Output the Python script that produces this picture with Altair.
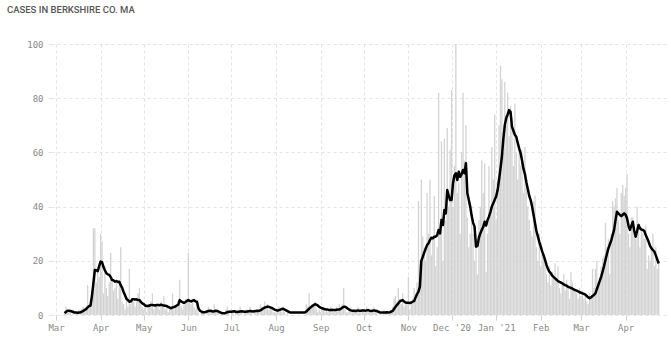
import altair as alt
import pandas as pd

TITLE = "CASES IN BERKSHIRE CO. MA"

# Daily new cases (bars) and 7-day average (line), per month
cases_2020_03 = [1, 3, 2, 1, 1, 0, 2, 0, 1, 1, 2, 1, 2, 3, 2, 3, 11, 4, 6, 8, 32, 32, 12, 17, 14]
avg_2020_03 = [0.7, 1.2, 1.6, 1.6, 1.5, 1.3, 1.1, 0.9, 0.9, 0.8, 0.9, 1.0, 1.2, 1.5,
               1.9, 2.2, 2.8, 3.3, 3.5, 7.0, 11.8, 16.6, 16.5, 16.2, 18.0]

cases_2020_04 = [30, 27, 8, 16, 10, 7, 12, 23, 14, 9, 10, 13, 6, 12, 25, 5, 4, 2, 6, 3, 17,
                 4, 6, 5, 3, 5, 8, 10, 4, 3]
avg_2020_04 = [19.7, 19.5, 17.8, 16.5, 15.4, 15.0, 14.8, 14.0, 12.9, 12.8, 12.3, 12.5, 12.2, 12.3,
               11.0, 10.0, 8.5, 7.3, 6.0, 5.5, 4.9, 5.0, 5.8, 5.8, 5.7, 5.8, 5.5, 5.5, 4.8, 4.3]

cases_2020_05 = [2, 3, 1, 4, 3, 5, 8, 2, 3, 4, 3, 2, 5, 3, 7, 2, 3, 1, 2, 3, 8, 2, 3, 4, 5, 13,
                 3, 2, 4, 6, 5]
avg_2020_05 = [4.0, 3.5, 3.3, 3.3, 3.5, 3.7, 3.7, 3.6, 3.5, 3.7, 3.7, 3.6, 3.8, 3.6, 3.5, 3.4,
               3.3, 3.0, 2.7, 2.5, 2.8, 2.9, 3.2, 3.5, 3.8, 5.5, 5.0, 4.7, 4.5, 4.8, 5.2]

cases_2020_06 = [23, 5, 4, 6, 3, 2, 4, 1, 0, 1, 2, 1, 0, 2, 3, 1, 2, 1, 4, 1, 2, 1, 0, 1, 0, 1,
                 2, 3, 1, 0]
avg_2020_06 = [5.5, 5.2, 5.0, 5.3, 5.5, 5.0, 4.9, 2.5, 1.6, 1.3, 1.0, 1.0, 1.1, 1.3, 1.5, 1.6,
               1.5, 1.3, 1.4, 1.6, 1.5, 1.3, 1.0, 0.8, 0.6, 0.6, 0.8, 1.0, 1.2, 1.2]

cases_2020_07 = [2, 1, 0, 1, 2, 1, 3, 1, 0, 1, 2, 2, 1, 3, 1, 0, 2, 1, 2, 1, 4, 3, 2, 5, 3, 4,
                 2, 3, 2, 1, 1]
avg_2020_07 = [1.2, 1.3, 1.4, 1.2, 1.1, 1.2, 1.3, 1.4, 1.3, 1.2, 1.2, 1.3, 1.4, 1.5, 1.4, 1.3,
               1.4, 1.5, 1.6, 1.5, 1.7, 2.0, 2.4, 2.7, 2.9, 3.1, 3.0, 2.8, 2.6, 2.3, 2.0]

cases_2020_08 = [1, 2, 3, 2, 1, 3, 1, 0, 1, 0, 0, 0, 0, 0, 0, 0, 0, 0, 0, 0, 0, 4, 3, 8, 2, 4,
                 3, 5, 2, 1, 2]
avg_2020_08 = [1.8, 1.6, 1.8, 2.0, 2.2, 2.3, 2.0, 1.7, 1.4, 1.1, 0.9, 0.9, 0.9, 0.9, 0.9, 0.9,
               0.9, 0.9, 0.9, 0.9, 0.9, 1.3, 1.8, 2.3, 2.8, 3.2, 3.6, 4.0, 3.8, 3.5, 3.0]

cases_2020_09 = [1, 2, 3, 1, 2, 1, 2, 3, 2, 1, 2, 3, 2, 4, 3, 4, 10, 2, 1, 1, 2, 3, 1, 2, 1, 2,
                 3, 1, 1, 2]
avg_2020_09 = [2.7, 2.5, 2.3, 2.1, 2.0, 2.0, 1.8, 1.8, 1.9, 1.8, 1.8, 1.9, 2.0, 2.0, 2.3, 2.7,
               3.0, 3.0, 2.7, 2.3, 1.9, 1.7, 1.6, 1.6, 1.5, 1.6, 1.7, 1.6, 1.6, 1.7]

cases_2020_10 = [2, 1, 3, 2, 1, 1, 2, 3, 1, 2, 0, 1, 1, 0, 2, 1, 1, 0, 1, 2, 3, 6, 7, 5, 10, 6,
                 4, 8, 3, 4, 5]
avg_2020_10 = [1.7, 1.6, 1.7, 1.8, 1.6, 1.5, 1.6, 1.7, 1.6, 1.5, 1.2, 1.0, 0.9, 0.9, 0.9, 0.9,
               1.0, 0.9, 1.0, 1.2, 1.5, 2.2, 3.0, 3.7, 4.3, 5.0, 5.3, 5.5, 5.0, 4.6, 4.5]

cases_2020_11 = [14, 2, 5, 6, 10, 8, 12, 42, 20, 50, 29, 25, 20, 45, 30, 50, 22, 28, 44, 18, 25,
                 82, 30, 64, 20, 65, 35, 69, 40, 61]
avg_2020_11 = [4.5, 4.4, 4.6, 4.9, 5.2, 6.5, 7.7, 8.6, 10.5, 20.0, 21.5, 23.0, 24.5, 25.8, 26.5,
               27.7, 28.5, 28.3, 28.9, 28.9, 29.5, 31.4, 30.1, 35.1, 33.2, 38.7, 37.5, 46.1, 44.0, 42.4]

cases_2020_12 = [83, 40, 55, 100, 45, 49, 30, 60, 82, 57, 70, 36, 25, 30, 40, 30, 20, 28, 15, 35,
                 40, 57, 45, 56, 16, 30, 55, 40, 62, 50, 74]
avg_2020_12 = [42.4, 48.6, 51.6, 52.3, 49.8, 52.9, 51.0, 52.0, 53.5, 52.3, 56.0, 44.9, 42.4, 39.9,
               36.5, 34.0, 32.6, 25.2, 25.5, 28.5, 30.1, 31.4, 32.5, 34.4, 33.0, 35.0, 36.3, 38.0,
               40.0, 41.2, 42.5]

cases_2021_01 = [35, 50, 70, 92, 87, 60, 86, 70, 82, 66, 77, 73, 55, 78, 60, 50, 62, 55, 61, 45,
                 62, 50, 40, 35, 31, 29, 42, 44, 25, 20, 30]
avg_2021_01 = [43.7, 46.0, 49.8, 54.0, 58.4, 65.0, 70.0, 72.6, 74.0, 75.6, 75.0, 69.5, 68.0, 66.5,
               65.8, 63.5, 61.5, 59.7, 57.0, 54.0, 52.0, 49.0, 46.5, 44.0, 42.4, 40.0, 37.0, 34.0,
               31.0, 29.0, 27.0]

cases_2021_02 = [18, 25, 22, 20, 15, 12, 18, 11, 16, 14, 19, 12, 18, 10, 8, 12, 15, 9, 13, 11, 6,
                 16, 12, 10, 9, 8, 6, 10]
avg_2021_02 = [25.2, 23.5, 22.0, 20.3, 18.5, 17.0, 16.0, 15.4, 14.5, 14.0, 13.5, 13.0, 12.5, 12.2,
               12.0, 11.7, 11.3, 11.0, 10.8, 10.4, 10.2, 10.0, 9.7, 9.4, 9.2, 9.0, 8.7, 8.4]

cases_2021_03 = [7, 9, 6, 7, 5, 4, 8, 6, 17, 10, 17, 20, 12, 14, 18, 21, 22, 34, 25, 28, 15, 30,
                 42, 40, 43, 47, 35, 30, 45, 48, 44]
avg_2021_03 = [8.2, 8.0, 7.8, 7.5, 7.0, 6.5, 6.2, 6.5, 7.0, 7.4, 8.0, 9.5, 11.0, 12.5, 14.1, 16.0,
               18.0, 20.3, 22.5, 24.5, 26.0, 27.5, 29.5, 31.4, 35.0, 38.1, 37.5, 36.9, 36.5, 37.0, 37.5]

cases_2021_04 = [47, 52, 30, 25, 36, 36, 30, 28, 40, 34, 25, 31, 30, 28, 33, 17, 22, 20, 24, 30,
                 18, 25, 17, 20]
avg_2021_04 = [37.0, 35.7, 33.0, 31.4, 33.0, 34.4, 31.0, 28.9, 31.0, 33.2, 32.0, 31.5, 31.4, 31.0,
               29.5, 28.3, 27.0, 25.5, 24.6, 24.0, 23.4, 22.0, 20.5, 19.0]

months = [
    ("2020-03", 7, cases_2020_03, avg_2020_03),
    ("2020-04", 1, cases_2020_04, avg_2020_04),
    ("2020-05", 1, cases_2020_05, avg_2020_05),
    ("2020-06", 1, cases_2020_06, avg_2020_06),
    ("2020-07", 1, cases_2020_07, avg_2020_07),
    ("2020-08", 1, cases_2020_08, avg_2020_08),
    ("2020-09", 1, cases_2020_09, avg_2020_09),
    ("2020-10", 1, cases_2020_10, avg_2020_10),
    ("2020-11", 1, cases_2020_11, avg_2020_11),
    ("2020-12", 1, cases_2020_12, avg_2020_12),
    ("2021-01", 1, cases_2021_01, avg_2021_01),
    ("2021-02", 1, cases_2021_02, avg_2021_02),
    ("2021-03", 1, cases_2021_03, avg_2021_03),
    ("2021-04", 1, cases_2021_04, avg_2021_04),
]

rows = []
for ym, start, cs, av in months:
    for i, (c, a) in enumerate(zip(cs, av)):
        rows.append({"date": f"{ym}-{start + i:02d}", "cases": c, "avg": a})
df = pd.DataFrame(rows)
title_df = pd.DataFrame({"t": [TITLE]})

MONO = "DejaVu Sans Mono"
GRID = "#e3e3e3"

label_expr = ('month(datum.value) == 11 ? "Dec \'20" : '
              '(month(datum.value) == 0 ? "Jan \'21" : timeFormat(datum.value, "%b"))')

x_enc = alt.X(
    "date:T",
    scale=alt.Scale(domain=[alt.DateTime(year=2020, month=3, date=1),
                            alt.DateTime(year=2021, month=4, date=27)]),
    axis=alt.Axis(
        title=None,
        tickCount={"interval": "month", "step": 1},
        labelExpr=label_expr,
        labelFlush=False,
        labelOverlap=False,
        labelFont=MONO,
        labelFontSize=9,
        labelColor="#8a8a8a",
        labelPadding=3,
        domain=False,
        ticks=True,
        tickSize=5,
        tickColor="#d0d0d0",
        grid=True,
        gridColor=GRID,
        gridDash=[3, 3],
    ),
)

y_axis = alt.Axis(
    title=None,
    values=[0, 20, 40, 60, 80, 100],
    labelFlush=False,
    labelFont=MONO,
    labelFontSize=9,
    labelColor="#8a8a8a",
    labelPadding=2,
    domain=False,
    ticks=True,
    tickSize=6,
    tickColor=GRID,
    tickDash=[3, 3],
    grid=True,
    gridColor=GRID,
    gridDash=[3, 3],
)

base = alt.Chart(df).encode(x=x_enc)

bars = base.mark_bar(size=1.3, color="#d3d3d3").encode(
    y=alt.Y("cases:Q", scale=alt.Scale(domain=[0, 100]), axis=y_axis)
)

line = base.mark_line(color="#000000", strokeWidth=2.5, strokeJoin="round").encode(
    y=alt.Y("avg:Q")
)

title = alt.Chart(title_df).mark_text(
    align="left",
    baseline="alphabetic",
    font="Roboto",
    fontSize=9.5,
    fontWeight=500,
    color="#555555",
).encode(text="t:N", x=alt.value(-44), y=alt.value(-31.5))

chart = (
    alt.layer(bars, line, title)
    .properties(
        width=617,
        height=271,
        autosize=alt.AutoSizeParams(type="none"),
        padding={"left": 51, "top": 44, "right": 3, "bottom": 29},
    )
    .configure_view(stroke=None)
)

chart.save("out.html", embed_options={"renderer": "svg", "actions": False})
